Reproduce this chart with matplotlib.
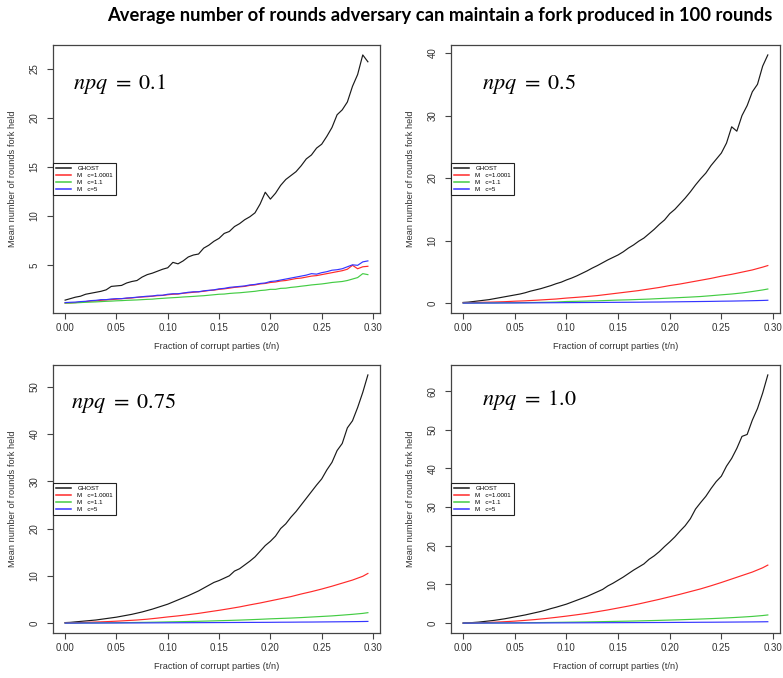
import numpy as np
import matplotlib
matplotlib.use("Agg")
import matplotlib.pyplot as plt

plt.rcParams['font.family'] = ['Liberation Sans', 'DejaVu Sans']
plt.rcParams['mathtext.fontset'] = 'stix'

# x grids (fraction of corrupt parties)
t_fine = np.round(np.arange(0, 0.2951, 0.005), 3)
t_coarse = [0.00, 0.01, 0.02, 0.03, 0.04, 0.05, 0.06, 0.07, 0.08, 0.09,
            0.10, 0.11, 0.12, 0.13, 0.14, 0.15, 0.16, 0.17, 0.18, 0.19,
            0.20, 0.21, 0.22, 0.23, 0.24, 0.25, 0.26, 0.27, 0.28, 0.29, 0.295]

legend_labels = ["GHOST", "M   c=1.0001", "M   c=1.1", "M   c=5"]
line_colors = ['#1a1a1a', '#ff2a2a', '#44cc44', '#3535ff']

# npq = 0.1 (all series on fine grid)
ghost_01 = [1.40, 1.55, 1.70, 1.80, 2.00, 2.10, 2.20, 2.30, 2.45, 2.80,
            2.85, 2.90, 3.15, 3.30, 3.40, 3.75, 4.00, 4.15, 4.35, 4.55,
            4.70, 5.25, 5.10, 5.40, 5.80, 6.00, 6.10, 6.70, 7.00, 7.40,
            7.70, 8.20, 8.40, 8.90, 9.20, 9.60, 9.90, 10.30, 11.20, 12.40,
            11.70, 12.30, 13.10, 13.70, 14.10, 14.50, 15.10, 15.80, 16.20, 16.90,
            17.30, 18.10, 19.00, 20.30, 20.80, 21.60, 23.20, 24.40, 26.40, 25.70]
red_01 = [1.10, 1.12, 1.15, 1.20, 1.25, 1.30, 1.32, 1.38, 1.42, 1.45,
          1.50, 1.55, 1.58, 1.62, 1.68, 1.72, 1.75, 1.80, 1.85, 1.88,
          1.95, 2.00, 2.02, 2.10, 2.15, 2.20, 2.25, 2.30, 2.38, 2.42,
          2.50, 2.55, 2.62, 2.70, 2.75, 2.80, 2.90, 2.95, 3.05, 3.10,
          3.20, 3.25, 3.35, 3.40, 3.50, 3.60, 3.65, 3.75, 3.85, 3.90,
          4.00, 4.10, 4.20, 4.30, 4.40, 4.55, 4.95, 4.60, 4.80, 4.85]
green_01 = [1.10, 1.10, 1.12, 1.15, 1.18, 1.20, 1.22, 1.25, 1.28, 1.30,
            1.33, 1.35, 1.38, 1.40, 1.42, 1.45, 1.48, 1.50, 1.55, 1.58,
            1.62, 1.65, 1.68, 1.72, 1.75, 1.78, 1.82, 1.85, 1.90, 1.95,
            2.00, 2.02, 2.08, 2.12, 2.15, 2.20, 2.25, 2.30, 2.38, 2.42,
            2.50, 2.50, 2.60, 2.62, 2.70, 2.75, 2.82, 2.88, 2.95, 3.00,
            3.05, 3.12, 3.20, 3.25, 3.30, 3.40, 3.55, 3.70, 4.10, 4.00]
blue_01 = [1.15, 1.18, 1.20, 1.25, 1.28, 1.35, 1.38, 1.45, 1.45, 1.52,
           1.55, 1.55, 1.62, 1.65, 1.70, 1.75, 1.80, 1.82, 1.90, 1.90,
           2.00, 2.05, 2.05, 2.12, 2.20, 2.25, 2.25, 2.35, 2.40, 2.45,
           2.55, 2.60, 2.70, 2.75, 2.80, 2.85, 2.95, 3.00, 3.10, 3.15,
           3.30, 3.35, 3.45, 3.55, 3.65, 3.75, 3.85, 3.95, 4.10, 4.05,
           4.20, 4.30, 4.45, 4.50, 4.60, 4.80, 5.00, 4.95, 5.30, 5.40]

# npq = 0.5 (GHOST fine grid, M series coarse grid)
ghost_05 = [0.10, 0.15, 0.25, 0.35, 0.45, 0.55, 0.70, 0.85, 1.00, 1.15,
            1.30, 1.45, 1.65, 1.90, 2.10, 2.30, 2.55, 2.80, 3.10, 3.35,
            3.70, 4.00, 4.35, 4.75, 5.15, 5.60, 6.00, 6.45, 6.90, 7.30,
            7.70, 8.20, 8.80, 9.30, 9.90, 10.40, 11.10, 11.80, 12.60, 13.30,
            14.30, 15.00, 15.90, 16.80, 17.80, 18.90, 19.90, 20.80, 22.00, 23.00,
            24.00, 25.60, 28.20, 27.50, 30.00, 31.60, 33.80, 35.00, 37.90, 39.70]
red_05 = [0.05, 0.09, 0.13, 0.17, 0.22, 0.30, 0.36, 0.45, 0.55, 0.65,
          0.80, 0.92, 1.05, 1.20, 1.40, 1.60, 1.80, 2.00, 2.25, 2.50,
          2.80, 3.05, 3.35, 3.65, 3.95, 4.30, 4.60, 4.95, 5.30, 5.75, 6.00]
green_05 = [0.00, 0.01, 0.02, 0.03, 0.05, 0.06, 0.08, 0.10, 0.13, 0.17,
            0.25, 0.28, 0.32, 0.36, 0.42, 0.48, 0.52, 0.58, 0.64, 0.72,
            0.80, 0.88, 0.96, 1.05, 1.18, 1.32, 1.45, 1.62, 1.85, 2.10, 2.25]
blue_05 = [0.00, 0.00, 0.01, 0.01, 0.02, 0.02, 0.03, 0.04, 0.05, 0.06,
           0.07, 0.08, 0.09, 0.10, 0.11, 0.12, 0.13, 0.14, 0.16, 0.17,
           0.19, 0.21, 0.23, 0.25, 0.27, 0.30, 0.32, 0.35, 0.38, 0.42, 0.45]

# npq = 0.75
ghost_075 = [0.10, 0.15, 0.25, 0.35, 0.45, 0.55, 0.65, 0.80, 0.95, 1.10,
             1.25, 1.45, 1.65, 1.85, 2.10, 2.35, 2.65, 2.95, 3.30, 3.65,
             4.00, 4.45, 4.90, 5.35, 5.80, 6.30, 6.80, 7.40, 8.00, 8.60,
             9.00, 9.50, 10.00, 11.00, 11.50, 12.30, 13.10, 14.00, 15.20, 16.40,
             17.30, 18.40, 20.00, 21.00, 22.40, 23.60, 25.00, 26.40, 27.80, 29.20,
             30.50, 32.40, 34.00, 36.50, 38.00, 41.30, 42.80, 45.60, 48.80, 52.50]
red_075 = [0.05, 0.10, 0.15, 0.22, 0.30, 0.40, 0.52, 0.65, 0.82, 1.05,
           1.30, 1.52, 1.78, 2.05, 2.38, 2.70, 3.05, 3.42, 3.85, 4.25,
           4.70, 5.15, 5.60, 6.15, 6.65, 7.20, 7.80, 8.45, 9.10, 9.90, 10.50]
green_075 = [0.00, 0.01, 0.02, 0.04, 0.06, 0.08, 0.10, 0.13, 0.16, 0.20,
             0.25, 0.29, 0.33, 0.38, 0.44, 0.50, 0.56, 0.63, 0.71, 0.80,
             0.90, 0.98, 1.06, 1.16, 1.28, 1.40, 1.52, 1.68, 1.85, 2.05, 2.20]
blue_075 = [0.00, 0.00, 0.01, 0.01, 0.02, 0.02, 0.03, 0.03, 0.04, 0.05,
            0.06, 0.07, 0.08, 0.09, 0.10, 0.11, 0.12, 0.13, 0.14, 0.15,
            0.16, 0.18, 0.19, 0.21, 0.22, 0.24, 0.26, 0.28, 0.30, 0.33, 0.35]

# npq = 1.0
ghost_10 = [0.00, 0.05, 0.15, 0.25, 0.40, 0.55, 0.70, 0.90, 1.10, 1.35,
            1.60, 1.85, 2.10, 2.40, 2.70, 3.00, 3.35, 3.75, 4.10, 4.50,
            4.90, 5.40, 5.90, 6.40, 6.90, 7.50, 8.10, 8.70, 9.60, 10.30,
            11.10, 11.90, 12.80, 13.70, 14.50, 15.30, 16.50, 17.40, 18.50, 19.80,
            21.00, 22.30, 23.80, 25.20, 27.00, 29.50, 31.20, 32.80, 34.80, 36.60,
            38.00, 40.60, 42.60, 45.20, 48.30, 48.80, 52.50, 55.50, 59.50, 64.20]
red_10 = [0.00, 0.05, 0.12, 0.22, 0.35, 0.50, 0.70, 0.92, 1.18, 1.48,
          1.80, 2.15, 2.52, 2.95, 3.40, 3.90, 4.40, 4.95, 5.55, 6.15,
          6.80, 7.45, 8.15, 8.85, 9.65, 10.50, 11.40, 12.30, 13.20, 14.30, 15.00]
green_10 = [0.00, 0.01, 0.02, 0.03, 0.05, 0.07, 0.09, 0.12, 0.15, 0.18,
            0.22, 0.26, 0.30, 0.35, 0.40, 0.45, 0.50, 0.56, 0.63, 0.70,
            0.78, 0.86, 0.95, 1.05, 1.15, 1.27, 1.40, 1.55, 1.72, 1.95, 2.10]
blue_10 = [0.00, 0.00, 0.01, 0.01, 0.02, 0.02, 0.03, 0.03, 0.04, 0.05,
           0.06, 0.07, 0.08, 0.09, 0.10, 0.11, 0.12, 0.13, 0.14, 0.15,
           0.16, 0.18, 0.19, 0.21, 0.22, 0.24, 0.26, 0.28, 0.30, 0.33, 0.35]

W, H = 783, 678
fig = plt.figure(figsize=(W / 100, H / 100), dpi=100)


def px_axes(left, top, right, bottom):
    return fig.add_axes([left / W, 1 - bottom / H, (right - left) / W, (bottom - top) / H])


def draw_panel(ax, series, xs, label, yticks, label_xy):
    for (x, y), c, lab in zip(zip(xs, series), line_colors, legend_labels):
        ax.plot(x, y, color=c, lw=0.85, label=lab)
    ax.margins(x=0.04, y=0.04)
    ax.set_xticks([0.00, 0.05, 0.10, 0.15, 0.20, 0.25, 0.30])
    ax.set_xticklabels(["0.00", "0.05", "0.10", "0.15", "0.20", "0.25", "0.30"])
    ax.set_yticks(yticks)
    for s in ax.spines.values():
        s.set_color('#444444')
        s.set_linewidth(0.9)
    ax.tick_params(length=4.5, width=0.8, color='#444444', labelsize=7,
                   labelcolor='#333333', pad=2.5)
    ax.tick_params(axis='y', pad=5)
    for t in ax.get_yticklabels():
        t.set_rotation(90)
        t.set_va('center')
    ax.set_xlabel("Fraction of corrupt parties (t/n)", fontsize=6.7, color='#333333')
    ax.set_ylabel("Mean number of rounds fork held", fontsize=6.7, color='#333333')
    ax.xaxis.set_label_coords(0.5, -0.11)
    ax.yaxis.set_label_coords(-0.11, 0.5)
    ax.text(label_xy[0], label_xy[1], label, transform=ax.transAxes,
            fontsize=16, va='center', ha='left')
    leg = ax.legend(loc='upper left', bbox_to_anchor=(0.0, 0.56), fontsize=4.4,
                    fancybox=False, framealpha=1, edgecolor='#222222',
                    borderaxespad=0, handlelength=2.4, handletextpad=1.1,
                    labelspacing=0.25, borderpad=0.5)
    leg.get_frame().set_linewidth(0.8)
    for h in leg.get_lines():
        h.set_linewidth(1.1)


ax1 = px_axes(53, 45, 380, 313)
draw_panel(ax1, [ghost_01, red_01, green_01, blue_01], [t_fine] * 4,
           r'$npq\ =\ 0.1$', [5, 10, 15, 20, 25], (0.062, 0.855))

ax2 = px_axes(451, 45, 780, 313)
draw_panel(ax2, [ghost_05, red_05, green_05, blue_05],
           [t_fine, t_coarse, t_coarse, t_coarse],
           r'$npq\ =\ 0.5$', [0, 10, 20, 30, 40], (0.095, 0.855))

ax3 = px_axes(53, 365, 380, 633)
draw_panel(ax3, [ghost_075, red_075, green_075, blue_075],
           [t_fine, t_coarse, t_coarse, t_coarse],
           r'$npq\ =\ 0.75$', [0, 10, 20, 30, 40, 50], (0.055, 0.86))

ax4 = px_axes(451, 365, 780, 633)
draw_panel(ax4, [ghost_10, red_10, green_10, blue_10],
           [t_fine, t_coarse, t_coarse, t_coarse],
           r'$npq\ =\ 1.0$', [0, 10, 20, 30, 40, 50, 60], (0.095, 0.87))

fig.text(440 / W, 1 - 16 / H,
         "Average number of rounds adversary can maintain a fork produced in 100 rounds",
         ha='center', va='center', fontsize=13.2, fontweight='bold', family='Lato')

fig.savefig("out.png", dpi=100)
